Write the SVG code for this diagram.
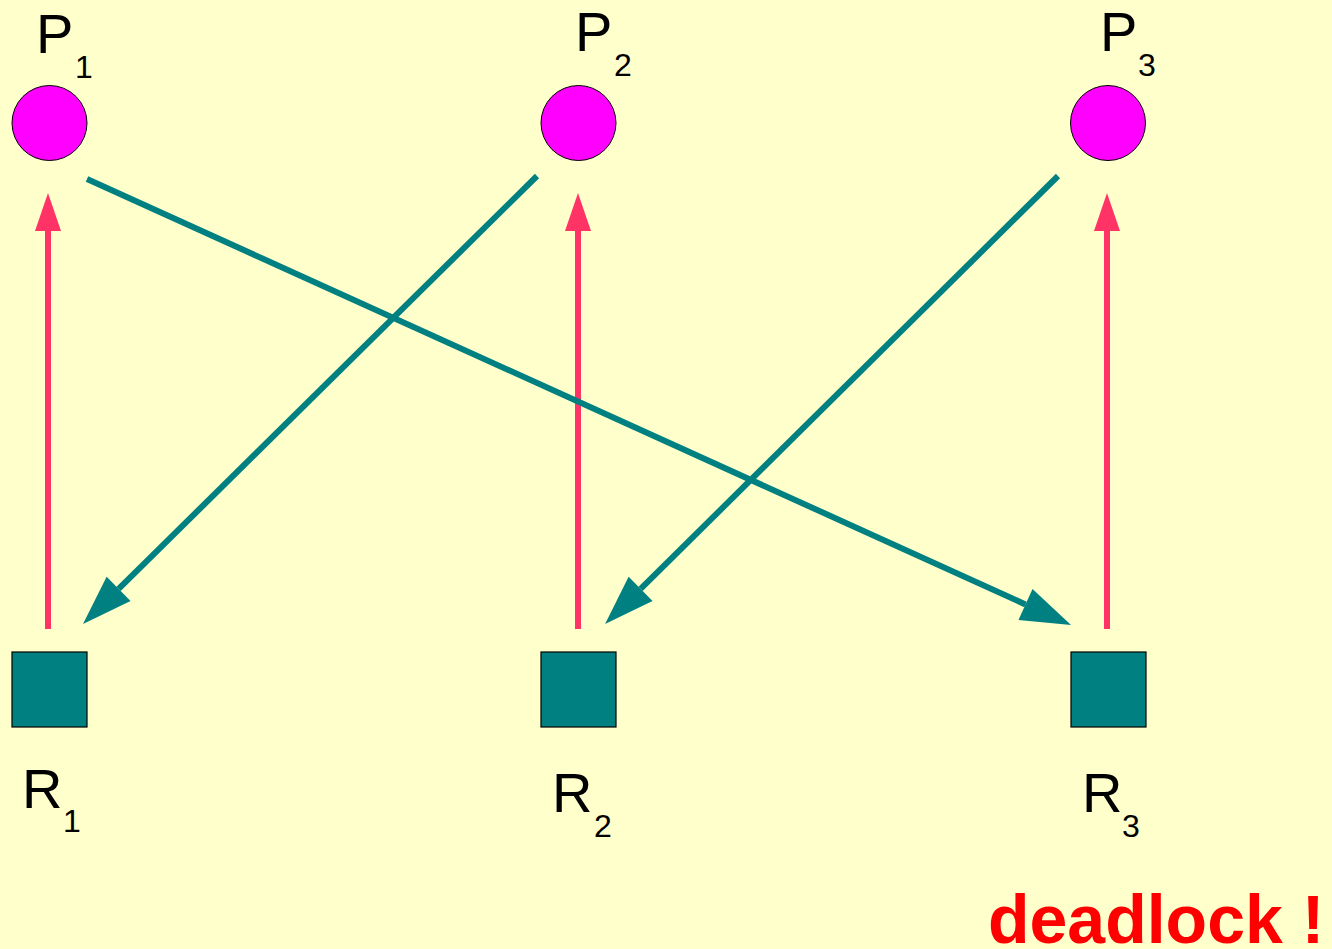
<svg xmlns="http://www.w3.org/2000/svg" width="1332" height="949" viewBox="0 0 1332 949">
<style>
.bg{fill:#FFFFCC}
.proc{fill:#FF00FF;stroke:#000;stroke-width:1}
.res{fill:#008080;stroke:#000;stroke-width:1.2}
.lbl{font-family:"Liberation Sans",Arial,sans-serif;font-size:56px;fill:#000}
.sub{font-family:"Liberation Sans",Arial,sans-serif;font-size:32px;fill:#000}
.req{stroke:#008080;stroke-width:6;fill:none}
.asg{stroke:#FF3366;stroke-width:6;fill:none}
.dl{font-family:"Liberation Sans",Arial,sans-serif;font-size:68px;font-weight:bold;fill:#FF0000}
</style>
<defs>
<marker id="ht" markerUnits="userSpaceOnUse" markerWidth="60" markerHeight="40" refX="0" refY="0" viewBox="0 -20 60 40" orient="auto" overflow="visible">
<path d="M0,-17 L50,0 L0,17 z" fill="#008080"/>
</marker>
<marker id="hr" markerUnits="userSpaceOnUse" markerWidth="45" markerHeight="30" refX="0" refY="0" viewBox="0 -15 45 30" orient="auto" overflow="visible">
<path d="M0,-13 L38,0 L0,13 z" fill="#FF3366"/>
</marker>
</defs>
<rect class="bg" x="0" y="0" width="1332" height="949"/>
<g id="connectors">
<line class="asg" x1="48" y1="629" x2="48" y2="231" marker-end="url(#hr)"/>
<line class="asg" x1="578" y1="629" x2="578" y2="231" marker-end="url(#hr)"/>
<line class="asg" x1="1107" y1="629" x2="1107" y2="231" marker-end="url(#hr)"/>
<line class="req" x1="87" y1="179" x2="1025.5" y2="604.4" marker-end="url(#ht)"/>
<line class="req" x1="537" y1="176" x2="118.6" y2="588.9" marker-end="url(#ht)"/>
<line class="req" x1="1058" y1="176" x2="640.6" y2="588.9" marker-end="url(#ht)"/>
</g>
<g id="P1">
<circle class="proc" cx="49.5" cy="123" r="37.5"/>
<text class="lbl" x="36" y="53">P</text><text class="sub" x="75" y="78">1</text>
</g>
<g id="P2">
<circle class="proc" cx="578.5" cy="123" r="37.5"/>
<text class="lbl" x="575" y="51">P</text><text class="sub" x="614" y="76">2</text>
</g>
<g id="P3">
<circle class="proc" cx="1108" cy="123" r="37.5"/>
<text class="lbl" x="1100" y="51">P</text><text class="sub" x="1138" y="76">3</text>
</g>
<g id="R1">
<rect class="res" x="12" y="652" width="75" height="75"/>
<text class="lbl" x="22" y="808">R</text><text class="sub" x="63" y="832">1</text>
</g>
<g id="R2">
<rect class="res" x="541" y="652" width="75" height="75"/>
<text class="lbl" x="552" y="812">R</text><text class="sub" x="594" y="837">2</text>
</g>
<g id="R3">
<rect class="res" x="1071" y="652" width="75" height="75"/>
<text class="lbl" x="1082" y="812">R</text><text class="sub" x="1122" y="837">3</text>
</g>
<g id="deadlock">
<text class="dl" x="988" y="943">deadlock !</text>
</g>
</svg>
